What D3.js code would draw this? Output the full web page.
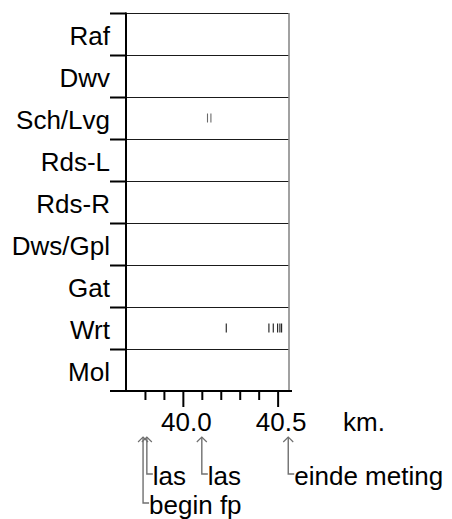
<!DOCTYPE html>
<html>
<head>
<meta charset="utf-8">
<script src="https://cdn.jsdelivr.net/npm/d3@7"></script>
<style>
  html, body { margin: 0; padding: 0; background: #fff; }
  svg { display: block; }
  text { font-family: "Liberation Sans", Arial, sans-serif; fill: #000; }
</style>
</head>
<body>
<div id="chart"></div>
<script>
// ---- data ----
const categories = ["Raf", "Dwv", "Sch/Lvg", "Rds-L", "Rds-R", "Dws/Gpl", "Gat", "Wrt", "Mol"];
const eventCategory = ["Sch/Lvg", "Sch/Lvg", "Wrt", "Wrt", "Wrt", "Wrt", "Wrt", "Wrt"];
const eventKm = [40.130, 40.148, 40.229, 40.454, 40.477, 40.500, 40.512, 40.521];
const tickKm = [39.8, 39.9, 40.0, 40.1, 40.2, 40.3, 40.4, 40.5];
const tickLabels = ["", "", "40.0", "", "", "", "", "40.5"];
const axisUnit = "km.";
const noteLabels = ["begin fp", "las", "las", "einde meting"];
const noteKm = [39.79, 39.81, 40.10, 40.556];
const noteLevel = [2, 1, 1, 1];
const kmDomain = [39.70, 40.56];

(function () {
// ---- layout ----
const W = 452, H = 519;
const pLeft = 126, pRight = 289, pTop = 13, pBottom = 391;
const FS = 26;

const svg = d3.select("#chart").append("svg")
  .attr("width", W).attr("height", H);

const x = d3.scaleLinear().domain(kmDomain).range([pLeft, pRight]);
const y = d3.scaleBand().domain(categories).range([pTop, pBottom]).padding(0);

// row separator lines
svg.append("g").selectAll("line").data(categories).join("line")
  .attr("x1", pLeft).attr("x2", pRight)
  .attr("y1", d => Math.round(y(d)) + 0.5).attr("y2", d => Math.round(y(d)) + 0.5)
  .attr("stroke", "#1a1a1a").attr("stroke-width", 1.2);

// right border
svg.append("line")
  .attr("x1", pRight).attr("x2", pRight).attr("y1", pTop).attr("y2", pBottom)
  .attr("stroke", "#8a8a8a").attr("stroke-width", 1.6);

// left axis ticks (at row tops)
svg.append("g").selectAll("line").data(categories).join("line")
  .attr("x1", pLeft - 16).attr("x2", pLeft)
  .attr("y1", d => Math.round(y(d)) + 0.5).attr("y2", d => Math.round(y(d)) + 0.5)
  .attr("stroke", "#000").attr("stroke-width", 2);

// left axis line
svg.append("line")
  .attr("x1", pLeft).attr("x2", pLeft).attr("y1", pTop - 0.5).attr("y2", pBottom)
  .attr("stroke", "#000").attr("stroke-width", 2);

// row labels
svg.append("g").selectAll("text").data(categories).join("text")
  .attr("x", pLeft - 16)
  .attr("y", d => y(d) + y.bandwidth() / 2 + 11)
  .attr("text-anchor", "end")
  .attr("font-size", FS)
  .text(d => d);

// bottom axis
const xAxis = d3.axisBottom(x)
  .tickValues(tickKm)
  .tickSize(9)
  .tickPadding(0)
  .tickFormat((d, i) => tickLabels[i]);
const ax = svg.append("g").attr("transform", `translate(0,${pBottom})`).call(xAxis);
ax.select(".domain").remove();
ax.selectAll(".tick line").attr("stroke", "#000").attr("stroke-width", 2)
  .attr("y2", (d, i) => tickLabels[i] ? 16 : 9);
ax.selectAll(".tick text")
  .attr("font-family", "Liberation Sans, Arial, sans-serif")
  .attr("font-size", FS).attr("fill", "#000")
  .attr("dy", null).attr("y", 40).attr("x", 3);
svg.append("line")
  .attr("x1", pLeft - 16).attr("x2", pRight + 3).attr("y1", pBottom).attr("y2", pBottom)
  .attr("stroke", "#000").attr("stroke-width", 2.2);

svg.append("text").attr("x", 343).attr("y", pBottom + 40)
  .attr("font-size", FS).text(axisUnit);

// event marks
const events = eventKm.map((k, i) => ({ km: k, cat: eventCategory[i] }));
svg.append("g").selectAll("line").data(events).join("line")
  .attr("x1", d => x(d.km)).attr("x2", d => x(d.km))
  .attr("y1", d => y(d.cat) + y.bandwidth() / 2 - 4.5)
  .attr("y2", d => y(d.cat) + y.bandwidth() / 2 + 4.5)
  .attr("stroke", d => d.cat === "Wrt" ? "#1a1a1a" : "#6a6a6a")
  .attr("stroke-width", 1.1);

// annotations
const notes = noteLabels.map((l, i) => ({ label: l, km: noteKm[i], level: noteLevel[i] }));
const tipY = 437;
const levelY = { 1: 474, 2: 503 };
const ng = svg.append("g");
notes.forEach(n => {
  const ax0 = x(n.km);
  const cy = levelY[n.level];
  ng.append("path")
    .attr("d", `M${ax0 - 5},${tipY + 5}L${ax0},${tipY}L${ax0 + 5},${tipY + 5}`)
    .attr("fill", "none").attr("stroke", "#707070").attr("stroke-width", 1.2);
  ng.append("path")
    .attr("d", `M${ax0},${tipY}V${cy}H${ax0 + 6}`)
    .attr("fill", "none").attr("stroke", "#707070").attr("stroke-width", 1.4);
  ng.append("text")
    .attr("x", ax0 + 6).attr("y", cy + 11)
    .attr("font-size", FS).text(n.label);
});
})();
</script>
</body>
</html>
